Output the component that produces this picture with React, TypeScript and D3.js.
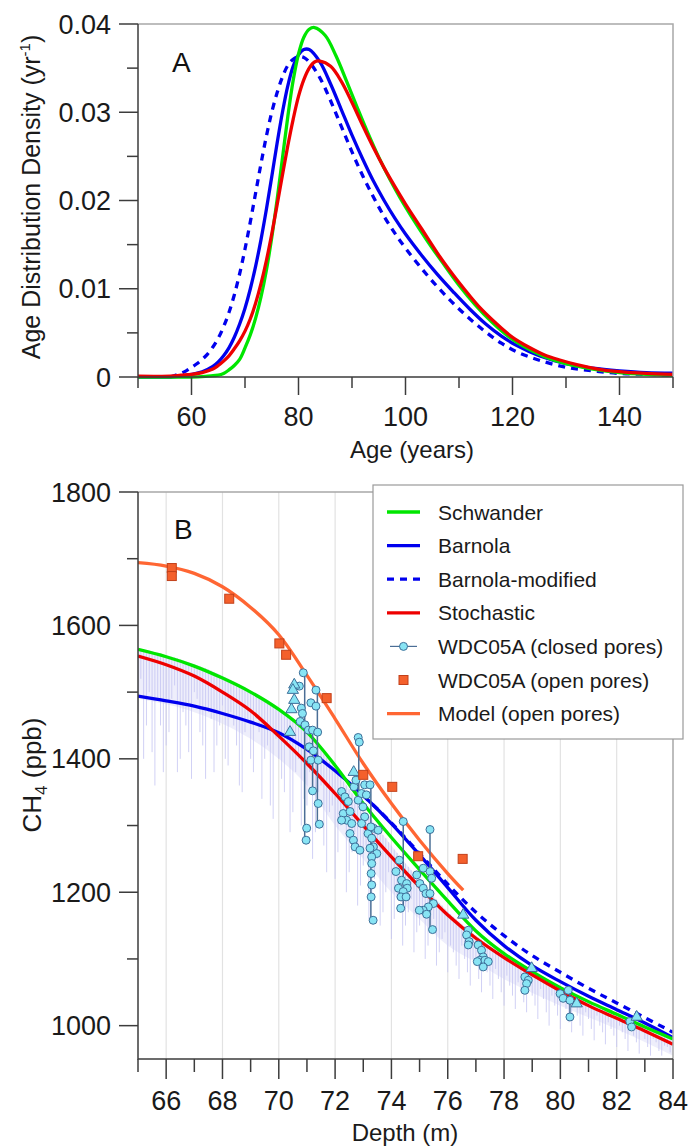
import React, { useEffect, useRef } from 'react';
import * as d3 from 'd3';

type P = [number, number];

// ---------- Panel A: age distributions (age in years, density in yr^-1) ----------
const ageSchwander: P[] = [
  [50, 0], [60, 0], [63, 0.0001], [65, 0.0002], [66, 0.0004], [67, 0.0008], [68, 0.0013], [69, 0.002],
  [70, 0.0033], [71, 0.0048], [72, 0.0067], [73, 0.0091], [74, 0.0121], [75, 0.0158], [76, 0.0201],
  [77, 0.0248], [78, 0.0295], [79, 0.0336], [80, 0.0366], [81, 0.0385], [82, 0.0394], [83, 0.0396],
  [85, 0.0387], [87, 0.0364], [89, 0.0335], [91, 0.0305], [93, 0.0276], [95, 0.0249], [97, 0.0225],
  [99, 0.0203], [101, 0.0183], [104, 0.0155], [107, 0.0129], [110, 0.0104], [113, 0.0082], [116, 0.0063],
  [119, 0.0047], [122, 0.0035], [126, 0.0023], [130, 0.0015], [135, 0.0009], [140, 0.0005], [145, 0.0003],
  [150, 0.0002],
];
const ageBarnola: P[] = [
  [50, 0], [56, 0], [58, 0.0001], [60, 0.0003], [62, 0.0006], [64, 0.0012], [65, 0.0017], [66, 0.0024],
  [67, 0.0033], [68, 0.0045], [69, 0.006], [70, 0.0078], [71, 0.01], [72, 0.0126], [73, 0.0156],
  [74, 0.019], [75, 0.0227], [76, 0.0265], [77, 0.03], [78, 0.033], [79, 0.0352], [80, 0.0365],
  [81, 0.0371], [82, 0.0371], [84, 0.0357], [86, 0.0332], [88, 0.0303], [90, 0.0274], [92, 0.0247],
  [94, 0.0222], [96, 0.02], [98, 0.018], [100, 0.0162], [103, 0.0138], [106, 0.0116], [109, 0.0096],
  [112, 0.0077], [115, 0.006], [118, 0.0046], [121, 0.0035], [125, 0.0024], [130, 0.0015], [135, 0.001],
  [140, 0.0007], [145, 0.0005], [150, 0.00045],
];
const ageBarnolaMod: P[] = [
  [56, 0], [57, 0.0002], [58, 0.0004], [59, 0.0007], [60, 0.0011], [61, 0.0015], [62, 0.002], [63, 0.0026],
  [64, 0.0034], [65, 0.0044], [66, 0.0057], [67, 0.0073], [68, 0.0093], [69, 0.0117], [70, 0.0145],
  [71, 0.0176], [72, 0.0209], [73, 0.0242], [74, 0.0273], [75, 0.03], [76, 0.0322], [77, 0.034],
  [78, 0.0353], [79, 0.036], [80, 0.0363], [81, 0.0362], [82, 0.0357], [84, 0.0339], [86, 0.0313],
  [88, 0.0284], [90, 0.0255], [92, 0.0228], [94, 0.0204], [96, 0.0182], [98, 0.0163], [100, 0.0146],
  [103, 0.0123], [106, 0.0102], [109, 0.0083], [112, 0.0066], [115, 0.0051], [118, 0.0038], [121, 0.0028],
  [125, 0.0019], [130, 0.0011], [135, 0.0007], [140, 0.0004], [145, 0.0003], [150, 0.0002],
];
const ageStochastic: P[] = [
  [50, 0.0001], [56, 0.0001], [58, 0.0002], [60, 0.0003], [62, 0.0005], [64, 0.0009], [65, 0.0013],
  [66, 0.0018], [67, 0.0024], [68, 0.0032], [69, 0.0041], [70, 0.0052], [71, 0.0066], [72, 0.0084],
  [73, 0.0106], [74, 0.0132], [75, 0.0162], [76, 0.0195], [77, 0.0229], [78, 0.0262], [79, 0.0292],
  [80, 0.0318], [81, 0.0337], [82, 0.035], [83, 0.0357], [84, 0.0358], [86, 0.0352], [88, 0.0335],
  [90, 0.0311], [92, 0.0285], [94, 0.026], [96, 0.0237], [98, 0.0216], [100, 0.0196], [103, 0.0168],
  [106, 0.014], [108, 0.0123], [110, 0.0107], [112, 0.0092], [114, 0.0078], [116, 0.0066], [118, 0.0055],
  [120, 0.0045], [123, 0.0034], [126, 0.0025], [129, 0.0019], [132, 0.0014], [136, 0.0009], [140, 0.0006],
  [145, 0.0004], [150, 0.0003],
];
const ageTicksMajor = [60, 80, 100, 120, 140];
const ageTicksMinor = [50, 70, 90, 110, 130, 150];
const densTicksMajor = [0, 0.01, 0.02, 0.03, 0.04];
const densTicksMinor = [0.005, 0.015, 0.025, 0.035];

// ---------- Panel B: CH4 (ppb) versus depth (m) ----------
const ch4Schwander: P[] = [
  [65, 1564], [66, 1553], [67, 1539], [68, 1521], [69, 1500], [70, 1474], [71, 1440], [72, 1390],
  [73, 1333], [74, 1282], [75, 1234], [76, 1187], [77, 1142], [78, 1108], [79, 1081], [80, 1057],
  [81, 1036], [82, 1017], [83, 998], [84, 980],
];
const ch4Barnola: P[] = [
  [65, 1494], [66, 1487], [67, 1479], [68, 1468], [69, 1455], [70, 1439], [71, 1414], [72, 1382],
  [73, 1345], [74, 1303], [75, 1256], [76, 1207], [77, 1158], [78, 1120], [79, 1090], [80, 1066],
  [81, 1044], [82, 1024], [83, 1004], [84, 982],
];
const ch4BarnolaMod: P[] = [
  [73, 1345], [74, 1304], [75, 1258], [76, 1212], [77, 1170], [78, 1135], [79, 1105], [80, 1080],
  [81, 1056], [82, 1034], [83, 1012], [84, 990],
];
const ch4Stochastic: P[] = [
  [65, 1554], [66, 1541], [67, 1524], [68, 1500], [69, 1472], [70, 1434], [71, 1393], [72, 1348],
  [73, 1300], [74, 1253], [75, 1208], [76, 1166], [77, 1131], [78, 1102], [79, 1076], [80, 1052],
  [81, 1030], [82, 1011], [83, 992], [84, 972],
];
const ch4ModelOpen: P[] = [
  [65, 1694], [66, 1689], [67, 1678], [68, 1658], [69, 1627], [70, 1586], [71, 1525], [72, 1460],
  [73, 1393], [74, 1333], [75, 1278], [76, 1228], [76.55, 1203],
];
const openPores: P[] = [
  [66.2, 1686], [66.2, 1674], [68.24, 1640], [70.02, 1573], [70.26, 1556], [71.7, 1491], [73.0, 1376],
  [74.03, 1358], [74.95, 1254], [76.53, 1250],
];
const closedCircles: P[] = [
  [70.87, 1529], [70.73, 1509], [70.8, 1476], [70.84, 1468], [70.76, 1456], [70.93, 1451], [71.05, 1443],
  [70.99, 1296], [70.97, 1278],
  [71.32, 1503], [71.14, 1484], [71.32, 1479], [71.2, 1443], [71.38, 1440], [71.08, 1418], [71.23, 1412],
  [71.14, 1398], [71.4, 1398], [71.2, 1352], [71.4, 1333], [71.44, 1302],
  [72.82, 1432], [72.86, 1425],
  [72.23, 1351], [72.35, 1343], [72.47, 1336], [72.29, 1318], [72.41, 1308], [72.23, 1308], [72.53, 1321],
  [72.59, 1303], [72.53, 1288], [72.65, 1278], [72.71, 1268], [72.88, 1263], [72.82, 1338], [72.94, 1348],
  [73.05, 1361], [73.11, 1346], [72.99, 1328], [73.05, 1313], [73.17, 1288], [73.36, 1296], [73.53, 1293],
  [73.3, 1281], [73.36, 1268], [73.48, 1258], [72.94, 1303], [72.67, 1358], [72.74, 1368],
  [73.24, 1361], [73.27, 1298], [73.24, 1266], [73.3, 1253], [73.3, 1243], [73.28, 1228], [73.3, 1211],
  [73.28, 1193], [73.35, 1158],
  [74.42, 1306], [74.28, 1248], [74.16, 1231], [74.36, 1218], [74.54, 1213], [74.25, 1206], [74.56, 1206],
  [74.42, 1201], [74.34, 1193], [74.52, 1193], [74.33, 1176],
  [75.37, 1294], [75.13, 1236], [75.37, 1231], [75.43, 1221], [74.9, 1226], [75.01, 1213], [75.13, 1206],
  [75.23, 1198], [75.37, 1198], [75.49, 1183], [75.31, 1178], [75.13, 1173], [74.99, 1173], [75.25, 1167],
  [75.46, 1144],
  [76.73, 1143], [76.67, 1136], [76.76, 1126], [76.73, 1121],
  [77.08, 1121], [77.2, 1113], [77.26, 1103], [77.14, 1098], [77.32, 1098], [77.44, 1096], [77.26, 1088],
  [77.05, 1096],
  [78.74, 1073], [78.86, 1068], [78.8, 1063], [78.74, 1053],
  [79.99, 1048], [80.28, 1053], [80.1, 1041], [80.34, 1038], [80.34, 1013],
  [82.47, 1006], [82.53, 998],
];
const closedTriangles: P[] = [
  [70.55, 1511], [70.5, 1503], [70.55, 1488], [70.45, 1474], [70.4, 1440], [72.66, 1380], [76.55, 1166],
  [78.98, 1086], [80.58, 1033], [82.71, 1013],
];
// vertical replicate links: [depth, top, bottom]
const closedLinks: [number, number, number][] = [
  [70.92, 1529, 1278], [71.37, 1503, 1302], [71.2, 1440, 1351], [72.84, 1432, 1338], [73.27, 1361, 1158],
  [74.42, 1306, 1176], [75.37, 1294, 1144], [76.72, 1143, 1121], [78.8, 1073, 1053], [80.34, 1053, 1013],
];
// high-resolution record: [depth, top, low]
const hiresSpikes: [number, number, number][] = [
  [65.0, 1566, 1470], [65.2, 1564, 1400], [65.4, 1562, 1500], [65.6, 1560, 1360], [65.8, 1558, 1450],
  [66.0, 1555, 1420], [66.2, 1553, 1490], [66.4, 1551, 1380], [66.6, 1548, 1470], [66.8, 1545, 1410],
  [67.0, 1542, 1500], [67.2, 1539, 1440], [67.4, 1536, 1370], [67.6, 1532, 1460], [67.8, 1528, 1420],
  [68.0, 1524, 1480], [68.2, 1520, 1390], [68.4, 1516, 1450], [68.6, 1512, 1360], [68.8, 1507, 1440],
  [69.0, 1502, 1400], [69.2, 1497, 1460], [69.4, 1492, 1340], [69.6, 1486, 1420], [69.8, 1480, 1310],
  [70.0, 1474, 1400], [70.2, 1468, 1350], [70.4, 1461, 1290], [70.6, 1454, 1380], [70.8, 1447, 1300],
  [71.0, 1440, 1330], [71.2, 1430, 1250], [71.4, 1420, 1350], [71.6, 1408, 1270], [71.8, 1396, 1320],
  [72.0, 1384, 1220], [72.2, 1372, 1300], [72.4, 1360, 1200], [72.6, 1348, 1260], [72.8, 1337, 1180],
  [73.0, 1326, 1240], [73.2, 1314, 1160], [73.4, 1303, 1220], [73.6, 1292, 1150], [73.8, 1281, 1200],
  [74.0, 1270, 1130], [74.2, 1259, 1190], [74.4, 1248, 1120], [74.6, 1238, 1170], [74.8, 1228, 1110],
  [75.0, 1218, 1150], [75.2, 1208, 1100], [75.4, 1198, 1140], [75.6, 1189, 1090], [75.8, 1180, 1130],
  [76.0, 1171, 1080], [76.2, 1163, 1110], [76.4, 1156, 1070], [76.6, 1149, 1100], [76.8, 1142, 1060],
  [77.0, 1135, 1090], [77.2, 1129, 1050], [77.4, 1123, 1080], [77.6, 1117, 1040], [77.8, 1111, 1070],
  [78.0, 1105, 1030], [78.2, 1100, 1060], [78.4, 1095, 1025], [78.6, 1090, 1050], [78.8, 1085, 1020],
  [79.0, 1080, 1045], [79.2, 1075, 1010], [79.4, 1070, 1040], [79.6, 1066, 1000], [79.8, 1062, 1030],
  [80.0, 1057, 995], [80.2, 1053, 1025], [80.4, 1049, 990], [80.6, 1045, 1015], [80.8, 1041, 985],
  [81.0, 1037, 1010], [81.2, 1033, 978], [81.4, 1029, 1000], [81.6, 1025, 972], [81.8, 1021, 995],
  [82.0, 1017, 968], [82.2, 1013, 990], [82.4, 1009, 962], [82.6, 1005, 985], [82.8, 1001, 958],
  [83.0, 997, 980], [83.2, 993, 955], [83.4, 989, 975], [83.6, 985, 955], [83.8, 981, 968],
];
const hiresSpikesOdd: [number, number, number][] = [
  [65.1, 1565, 1520], [65.3, 1563, 1450], [65.5, 1561, 1410], [65.7, 1559, 1490], [65.9, 1556, 1380],
  [66.1, 1554, 1440], [66.3, 1552, 1510], [66.5, 1549, 1400], [66.7, 1546, 1450], [66.9, 1543, 1370],
  [67.1, 1540, 1490], [67.3, 1537, 1420], [67.5, 1534, 1470], [67.7, 1530, 1380], [67.9, 1526, 1450],
  [68.1, 1522, 1400], [68.3, 1518, 1470], [68.5, 1514, 1420], [68.7, 1509, 1350], [68.9, 1504, 1460],
  [69.1, 1499, 1380], [69.3, 1494, 1440], [69.5, 1489, 1400], [69.7, 1483, 1330], [69.9, 1477, 1430],
  [70.1, 1471, 1370], [70.3, 1464, 1420], [70.5, 1457, 1320], [70.7, 1450, 1400], [70.9, 1443, 1340],
  [71.1, 1435, 1380], [71.3, 1425, 1290], [71.5, 1414, 1360], [71.7, 1402, 1230], [71.9, 1390, 1330],
  [72.1, 1378, 1260], [72.3, 1366, 1310], [72.5, 1354, 1230], [72.7, 1342, 1290], [72.9, 1331, 1210],
  [73.1, 1320, 1270], [73.3, 1308, 1190], [73.5, 1297, 1250], [73.7, 1286, 1170], [73.9, 1275, 1230],
  [74.1, 1264, 1160], [74.3, 1253, 1210], [74.5, 1243, 1150], [74.7, 1233, 1190], [74.9, 1223, 1140],
  [75.1, 1213, 1170], [75.3, 1203, 1120], [75.5, 1193, 1160], [75.7, 1184, 1110], [75.9, 1175, 1140],
  [76.1, 1167, 1120], [76.3, 1160, 1090], [76.5, 1152, 1120], [76.7, 1145, 1080], [76.9, 1138, 1100],
  [77.1, 1132, 1070], [77.3, 1126, 1095], [77.5, 1120, 1060], [77.7, 1114, 1085], [77.9, 1108, 1050],
  [78.1, 1102, 1075], [78.3, 1097, 1045], [78.5, 1092, 1065], [78.7, 1087, 1035], [78.9, 1082, 1060],
  [79.1, 1077, 1030], [79.3, 1072, 1055], [79.5, 1068, 1020], [79.7, 1064, 1045], [79.9, 1059, 1015],
  [80.1, 1055, 1040], [80.3, 1051, 1005], [80.5, 1047, 1030], [80.7, 1043, 1000], [80.9, 1039, 1020],
  [81.1, 1035, 995], [81.3, 1031, 1015], [81.5, 1027, 990], [81.7, 1023, 1005], [81.9, 1019, 985],
  [82.1, 1015, 1000], [82.3, 1011, 980], [82.5, 1007, 995], [82.7, 1003, 975], [82.9, 999, 990],
  [83.1, 995, 968], [83.3, 991, 980], [83.5, 987, 962], [83.7, 983, 970], [83.9, 979, 960],
];
const hiresBandTop: P[] = [
  [65, 1566], [67, 1542], [69, 1502], [70, 1474], [71, 1440], [72, 1384], [73, 1326], [74, 1270],
  [75, 1218], [76, 1171], [77, 1135], [78, 1105], [80, 1057], [82, 1017], [84, 978],
];
const hiresBandLow: P[] = [
  [65, 1490], [67, 1470], [69, 1430], [70, 1400], [71, 1360], [72, 1300], [73, 1250], [74, 1200],
  [75, 1160], [76, 1120], [77, 1095], [78, 1070], [80, 1030], [82, 995], [84, 955],
];
const depthTicksMajor = [66, 68, 70, 72, 74, 76, 78, 80, 82, 84];
const depthTicksMinor = [65, 67, 69, 71, 73, 75, 77, 79, 81, 83];
const ch4TicksMajor = [1000, 1200, 1400, 1600, 1800];
const ch4TicksMinor = [1100, 1300, 1500, 1700];

const legendItems = [
  { label: 'Schwander', kind: 'line', color: '#00e600', dash: '' },
  { label: 'Barnola', kind: 'line', color: '#0000ee', dash: '' },
  { label: 'Barnola-modified', kind: 'line', color: '#0000ee', dash: '7,6' },
  { label: 'Stochastic', kind: 'line', color: '#ee0000', dash: '' },
  { label: 'WDC05A (closed pores)', kind: 'circle', color: '#88e4f4', dash: '' },
  { label: 'WDC05A (open pores)', kind: 'square', color: '#f4602c', dash: '' },
  { label: 'Model (open pores)', kind: 'line', color: '#ff6633', dash: '' },
];

const FONT = "'Liberation Sans', Arial, Helvetica, sans-serif";
const AXIS = '#3c3c3c';
const FRAME = '#a8a8a8';
const TICK_FS = 27;

export default function App() {
  const ref = useRef<SVGSVGElement>(null);

  useEffect(() => {
    const svg = d3.select(ref.current!);
    svg.selectAll('*').remove();

    const drawAxes = (
      g: d3.Selection<SVGGElement, unknown, null, undefined>,
      x: d3.ScaleLinear<number, number>,
      y: d3.ScaleLinear<number, number>,
      xMaj: number[], xMin: number[], yMaj: number[], yMin: number[],
      xFmt: (v: number) => string, yFmt: (v: number) => string,
      xLen: [number, number], yLen: [number, number], xLabelDy: number,
    ) => {
      const [x0, x1] = x.range();
      const [y0, y1] = y.range();
      g.append('path').attr('d', `M${x0},${y1}H${x1}V${y0}`).attr('fill', 'none')
        .attr('stroke', FRAME).attr('stroke-width', 1.5);
      g.selectAll('.xmaj').data(xMaj).join('line')
        .attr('x1', d => x(d)).attr('x2', d => x(d)).attr('y1', y0).attr('y2', y0 + xLen[0])
        .attr('stroke', AXIS).attr('stroke-width', 1.5);
      g.selectAll('.xmin').data(xMin).join('line')
        .attr('x1', d => x(d)).attr('x2', d => x(d)).attr('y1', y0).attr('y2', y0 + xLen[1])
        .attr('stroke', AXIS).attr('stroke-width', 1.5);
      g.selectAll('.xlab').data(xMaj).join('text')
        .attr('x', d => x(d)).attr('y', y0 + xLabelDy).attr('text-anchor', 'middle')
        .attr('font-size', TICK_FS).attr('fill', '#1a1a1a').text(d => xFmt(d));
      g.selectAll('.ymaj').data(yMaj).join('line')
        .attr('x1', x0 - yLen[0]).attr('x2', x0).attr('y1', d => y(d)).attr('y2', d => y(d))
        .attr('stroke', AXIS).attr('stroke-width', 1.5);
      g.selectAll('.ymin').data(yMin).join('line')
        .attr('x1', x0 - yLen[1]).attr('x2', x0).attr('y1', d => y(d)).attr('y2', d => y(d))
        .attr('stroke', AXIS).attr('stroke-width', 1.5);
      g.selectAll('.ylab').data(yMaj).join('text')
        .attr('x', x0 - yLen[0] - 8).attr('y', d => y(d) + 9.5).attr('text-anchor', 'end')
        .attr('font-size', TICK_FS).attr('fill', '#1a1a1a').text(d => yFmt(d));
      g.append('path').attr('d', `M${x0},${y1}V${y0}H${x1}`).attr('fill', 'none')
        .attr('stroke', AXIS).attr('stroke-width', 1.5);
    };

    const root = svg.append('g').attr('font-family', FONT);

    // ================= Panel A =================
    const xA = d3.scaleLinear().domain([50, 150]).range([138, 673]);
    const yA = d3.scaleLinear().domain([0, 0.04]).range([377, 24]);
    const gA = root.append('g');
    const lineA = d3.line<P>().x(d => xA(d[0])).y(d => yA(Math.max(0, d[1])))
      .curve(d3.curveCatmullRom.alpha(0.5));

    const seriesA: { data: P[]; color: string; dash: string }[] = [
      { data: ageBarnolaMod, color: '#0000ee', dash: '7,6' },
      { data: ageBarnola, color: '#0000ee', dash: '' },
      { data: ageSchwander, color: '#00e600', dash: '' },
      { data: ageStochastic, color: '#ee0000', dash: '' },
    ];
    seriesA.forEach(s => {
      gA.append('path').attr('d', lineA(s.data)!).attr('fill', 'none').attr('stroke', s.color)
        .attr('stroke-width', 3.3).attr('stroke-dasharray', s.dash || null)
        .attr('stroke-linejoin', 'round');
    });

    drawAxes(gA, xA, yA, ageTicksMajor, ageTicksMinor, densTicksMajor, densTicksMinor,
      d => String(d), d => (d === 0 ? '0' : d.toFixed(2)), [18, 11], [19, 11], 49);

    gA.append('text').attr('x', 172).attr('y', 72).attr('font-size', 28).attr('fill', '#111').text('A');
    gA.append('text').attr('x', 412).attr('y', 458).attr('text-anchor', 'middle')
      .attr('font-size', 24).attr('fill', '#1a1a1a').text('Age (years)');
    const tA = gA.append('text').attr('transform', 'translate(40,197) rotate(-90)')
      .attr('text-anchor', 'middle').attr('font-size', 25).attr('fill', '#1a1a1a');
    tA.append('tspan').text('Age Distribution Density (yr');
    tA.append('tspan').attr('font-size', 15).attr('dy', -10).text('-1');
    tA.append('tspan').attr('dy', 10).text(')');

    // ================= Panel B =================
    const xB = d3.scaleLinear().domain([65, 84]).range([138, 673]);
    const yB = d3.scaleLinear().domain([950, 1800]).range([1059, 492]);
    const gB = root.append('g');
    const clipId = 'clipB';
    gB.append('clipPath').attr('id', clipId).append('rect')
      .attr('x', 138).attr('y', 492).attr('width', 535).attr('height', 567);

    gB.selectAll('.grid').data(depthTicksMajor.filter(d => d < 84)).join('line')
      .attr('x1', d => xB(d)).attr('x2', d => xB(d)).attr('y1', 492).attr('y2', 1059)
      .attr('stroke', '#e2e2e2').attr('stroke-width', 1.2);

    const plot = gB.append('g').attr('clip-path', `url(#${clipId})`);

    const band = d3.area<P>().x(d => xB(d[0])).y1(d => yB(d[1]))
      .y0((d, i) => yB(hiresBandLow[i][1])).curve(d3.curveMonotoneX);
    plot.append('path').attr('d', band(hiresBandTop)!).attr('fill', '#dedef8').attr('opacity', 0.5);
    plot.selectAll('.spike').data([...hiresSpikes, ...hiresSpikesOdd]).join('line')
      .attr('x1', d => xB(d[0])).attr('x2', d => xB(d[0]))
      .attr('y1', d => yB(d[1])).attr('y2', d => yB(d[2]))
      .attr('stroke', '#c2c2f2').attr('stroke-width', 1).attr('opacity', 0.75);

    const lineB = d3.line<P>().x(d => xB(d[0])).y(d => yB(d[1])).curve(d3.curveCatmullRom.alpha(0.5));
    const seriesB: { data: P[]; color: string; dash: string }[] = [
      { data: ch4Barnola, color: '#0000ee', dash: '' },
      { data: ch4Schwander, color: '#00e600', dash: '' },
      { data: ch4Stochastic, color: '#ee0000', dash: '' },
      { data: ch4BarnolaMod, color: '#0000ee', dash: '7,6' },
      { data: ch4ModelOpen, color: '#ff6633', dash: '' },
    ];
    seriesB.forEach(s => {
      plot.append('path').attr('d', lineB(s.data)!).attr('fill', 'none').attr('stroke', s.color)
        .attr('stroke-width', 3.3).attr('stroke-dasharray', s.dash || null);
    });

    plot.selectAll('.link').data(closedLinks).join('line')
      .attr('x1', d => xB(d[0])).attr('x2', d => xB(d[0]))
      .attr('y1', d => yB(d[1])).attr('y2', d => yB(d[2]))
      .attr('stroke', '#4b6e96').attr('stroke-width', 1.5);
    plot.selectAll('.cc').data(closedCircles).join('circle')
      .attr('cx', d => xB(d[0])).attr('cy', d => yB(d[1])).attr('r', 4)
      .attr('fill', '#88e4f4').attr('stroke', '#3d6f99').attr('stroke-width', 1);
    const tri = d3.symbol().type(d3.symbolTriangle).size(55);
    plot.selectAll('.ct').data(closedTriangles).join('path')
      .attr('transform', d => `translate(${xB(d[0])},${yB(d[1])})`).attr('d', tri()!)
      .attr('fill', '#88e4f4').attr('stroke', '#3d6f99').attr('stroke-width', 1);
    plot.selectAll('.op').data(openPores).join('rect')
      .attr('x', d => xB(d[0]) - 4.5).attr('y', d => yB(d[1]) - 4.5).attr('width', 9).attr('height', 9)
      .attr('fill', '#f4602c').attr('stroke', '#c2401a').attr('stroke-width', 1);

    drawAxes(gB, xB, yB, depthTicksMajor, depthTicksMinor, ch4TicksMajor, ch4TicksMinor,
      d => String(d), d => String(d), [20, 13], [19, 11], 51);

    gB.append('text').attr('x', 174).attr('y', 539).attr('font-size', 28).attr('fill', '#111').text('B');
    gB.append('text').attr('x', 405).attr('y', 1141).attr('text-anchor', 'middle')
      .attr('font-size', 24).attr('fill', '#1a1a1a').text('Depth (m)');
    const tB = gB.append('text').attr('transform', 'translate(41,775) rotate(-90)')
      .attr('text-anchor', 'middle').attr('font-size', 26).attr('fill', '#1a1a1a');
    tB.append('tspan').text('CH');
    tB.append('tspan').attr('font-size', 17).attr('dy', 6).text('4');
    tB.append('tspan').attr('dy', -6).text(' (ppb)');

    const lg = gB.append('g');
    lg.append('rect').attr('x', 373).attr('y', 485).attr('width', 310).attr('height', 254)
      .attr('fill', '#fff').attr('stroke', '#9a9a9a').attr('stroke-width', 1.2);
    legendItems.forEach((it, i) => {
      const cy = 512 + i * 33.6;
      if (it.kind === 'line') {
        lg.append('line').attr('x1', 387).attr('x2', 420).attr('y1', cy).attr('y2', cy)
          .attr('stroke', it.color).attr('stroke-width', 3.3).attr('stroke-dasharray', it.dash || null);
      } else if (it.kind === 'circle') {
        lg.append('line').attr('x1', 390).attr('x2', 417).attr('y1', cy).attr('y2', cy)
          .attr('stroke', '#4b6e96').attr('stroke-width', 1.2);
        lg.append('circle').attr('cx', 403.5).attr('cy', cy).attr('r', 4)
          .attr('fill', it.color).attr('stroke', '#3d6f99').attr('stroke-width', 1);
      } else {
        lg.append('rect').attr('x', 399).attr('y', cy - 4.5).attr('width', 9).attr('height', 9)
          .attr('fill', it.color).attr('stroke', '#c2401a').attr('stroke-width', 1);
      }
      lg.append('text').attr('x', 438).attr('y', cy + 7.5).attr('font-size', 21)
        .attr('fill', '#1a1a1a').text(it.label);
    });
  }, []);

  return (
    <svg ref={ref} width={691} height={1148}
      style={{ position: 'absolute', left: 0, top: 0, background: '#fff' }} />
  );
}
